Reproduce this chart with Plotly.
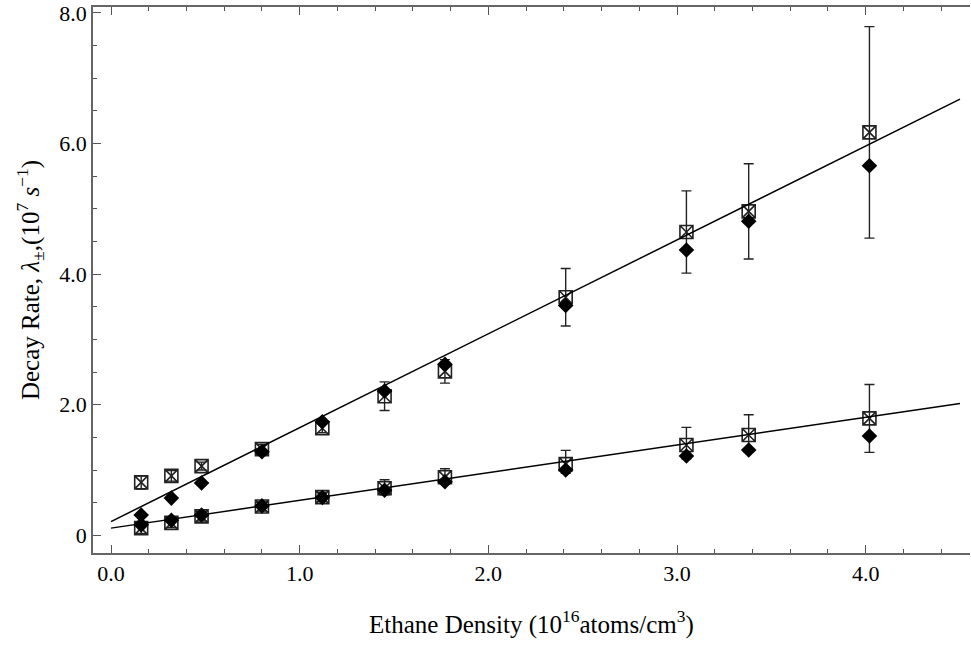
import plotly.graph_objects as go

# ---- data ----
density = [0.16, 0.32, 0.48, 0.80, 1.12, 1.45, 1.77, 2.41, 3.05, 3.38, 4.02]

fast_sq = [0.81, 0.91, 1.06, 1.32, 1.64, 2.13, 2.51, 3.645, 4.645, 4.96, 6.17]
fast_sq_err = [0.10, 0.08, 0.06, 0.07, 0.07, 0.22, 0.18, 0.44, 0.63, 0.73, 1.62]
fast_dia = [0.31, 0.57, 0.80, 1.28, 1.74, 2.21, 2.62, 3.52, 4.37, 4.81, 5.66]

slow_sq = [0.11, 0.19, 0.29, 0.44, 0.585, 0.72, 0.89, 1.09, 1.383, 1.536, 1.79]
slow_sq_err_plus = [0.08, 0.07, 0.07, 0.07, 0.07, 0.13, 0.13, 0.21, 0.27, 0.31, 0.52]
slow_sq_err_minus = [0.08, 0.07, 0.07, 0.07, 0.07, 0.10, 0.10, 0.14, 0.21, 0.26, 0.52]
slow_dia = [0.16, 0.23, 0.31, 0.45, 0.58, 0.69, 0.82, 1.00, 1.214, 1.306, 1.52]

fit_x = [0.0, 4.5]
fast_fit = [0.21, 6.68]
slow_fit = [0.11, 2.02]

x_tickvals = [0, 1, 2, 3, 4]
x_ticktext = ["0.0", "1.0", "2.0", "3.0", "4.0"]
y_tickvals = [0, 2, 4, 6, 8]
y_ticktext = ["0", "2.0", "4.0", "6.0", "8.0"]

FONT = "Liberation Serif, Times New Roman, serif"

fig = go.Figure()

sq_marker = dict(symbol="square-x-open", size=13, color="#222222", line=dict(width=1.6, color="#222222"))
dia_marker = dict(symbol="diamond", size=12, color="black", line=dict(width=0))

fig.add_trace(go.Scatter(
    x=density, y=fast_sq, mode="markers", marker=sq_marker,
    error_y=dict(type="data", array=fast_sq_err, visible=True, color="#222222", thickness=1.4, width=5),
    showlegend=False, hoverinfo="skip"))
fig.add_trace(go.Scatter(
    x=density, y=slow_sq, mode="markers", marker=sq_marker,
    error_y=dict(type="data", symmetric=False, array=slow_sq_err_plus, arrayminus=slow_sq_err_minus,
                 visible=True, color="#222222", thickness=1.4, width=5),
    showlegend=False, hoverinfo="skip"))

for ys in [fast_dia, slow_dia]:
    fig.add_trace(go.Scatter(x=density, y=ys, mode="markers", marker=dia_marker,
                             showlegend=False, hoverinfo="skip"))

for ys in [fast_fit, slow_fit]:
    fig.add_trace(go.Scatter(x=fit_x, y=ys, mode="lines", line=dict(color="black", width=1.5),
                             showlegend=False, hoverinfo="skip"))

axis_common = dict(
    showgrid=False, zeroline=False, showline=True, linecolor="#666666", linewidth=1.6,
    ticks="inside", ticklen=8, tickwidth=1.2, tickcolor="#555555",
    tickfont=dict(family=FONT, size=22, color="black"),
)

fig.update_xaxes(
    range=[-0.0954, 4.553], tickvals=x_tickvals, ticktext=x_ticktext, mirror="ticks",
    minor=dict(dtick=0.2, tick0=0, ticks="inside", ticklen=4, tickwidth=1, tickcolor="#555555"),
    **axis_common)
fig.update_yaxes(
    range=[-0.271, 8.09], tickvals=y_tickvals, ticktext=y_ticktext,
    minor=dict(dtick=0.5, tick0=0, ticks="inside", ticklen=4, tickwidth=1, tickcolor="#555555"),
    **axis_common)

fig.add_annotation(
    text="Ethane Density (10<sup>16</sup>atoms/cm<sup>3</sup>)",
    xref="paper", yref="paper", x=0.5, y=-0.128, xanchor="center", yanchor="middle",
    showarrow=False, font=dict(family=FONT, size=25, color="black"))
fig.add_annotation(
    text="Decay Rate, <i>λ</i><sub>±</sub>,(10<sup>7</sup> <i>s</i><sup>−1</sup>)",
    xref="paper", yref="paper", x=-0.0718, y=0.5, xanchor="center", yanchor="middle",
    textangle=-90, showarrow=False, font=dict(family=FONT, size=25, color="black"))

fig.update_layout(
    width=971, height=645,
    margin=dict(l=93, r=1, t=7, b=92),
    paper_bgcolor="white", plot_bgcolor="white",
)

fig.write_html("out.html")
